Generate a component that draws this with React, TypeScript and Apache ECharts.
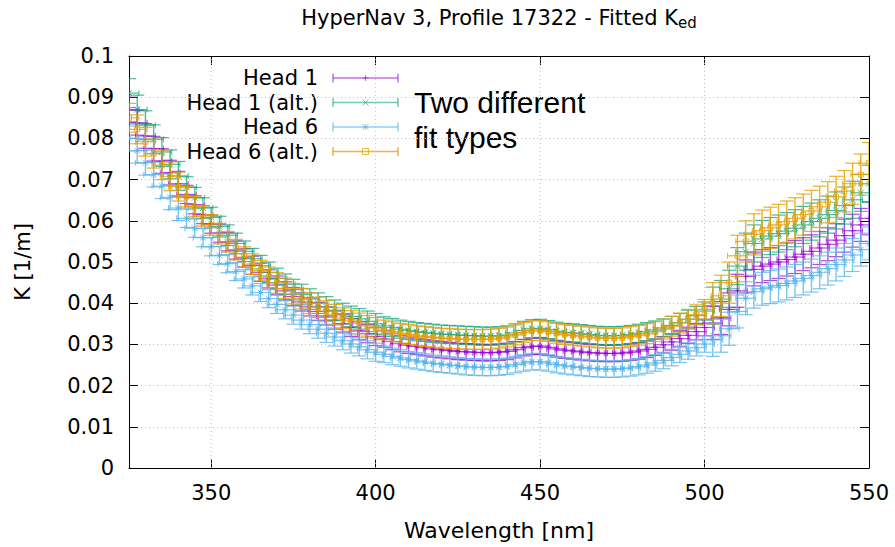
import { useEffect, useRef } from 'react';
import * as echarts from 'echarts';

// ---------------- data ----------------
const wavelengths: number[] = Array.from({ length: 91 }, (_, i) => 325 + 2.5 * i);

const head1 = [
  0.0870, 0.0838, 0.0806, 0.0775, 0.0745, 0.0717, 0.0690, 0.0664, 0.0639, 0.0615,
  0.0592, 0.0570, 0.0549, 0.0529, 0.0510, 0.0492, 0.0475, 0.0459, 0.0444, 0.0430,
  0.0416, 0.0403, 0.0391, 0.0380, 0.0369, 0.0359, 0.0350, 0.0341, 0.0333, 0.0326,
  0.0319, 0.0313, 0.0307, 0.0302, 0.0298, 0.0295, 0.0292, 0.0289, 0.0287, 0.0285,
  0.0283, 0.0282, 0.0281, 0.0280, 0.0280, 0.0281, 0.0283, 0.0287, 0.0292, 0.0295,
  0.0296, 0.0293, 0.0289, 0.0286, 0.0284, 0.0282, 0.0280, 0.0279, 0.0278, 0.0278,
  0.0279, 0.0281, 0.0284, 0.0288, 0.0293, 0.0299, 0.0306, 0.0314, 0.0322, 0.0331,
  0.0341, 0.0352, 0.0364, 0.0385, 0.0430, 0.0465, 0.0482, 0.0490, 0.0495, 0.0500,
  0.0506, 0.0512, 0.0519, 0.0526, 0.0534, 0.0543, 0.0553, 0.0564, 0.0576, 0.0590,
  0.0606,
];

const head1Alt = [
  0.0910, 0.0870, 0.0832, 0.0798, 0.0767, 0.0737, 0.0709, 0.0682, 0.0656, 0.0631,
  0.0608, 0.0586, 0.0565, 0.0545, 0.0526, 0.0508, 0.0491, 0.0475, 0.0460, 0.0446,
  0.0433, 0.0421, 0.0410, 0.0400, 0.0391, 0.0383, 0.0375, 0.0368, 0.0362, 0.0356,
  0.0350, 0.0345, 0.0341, 0.0337, 0.0334, 0.0331, 0.0329, 0.0327, 0.0325, 0.0324,
  0.0323, 0.0322, 0.0321, 0.0320, 0.0320, 0.0321, 0.0323, 0.0328, 0.0334, 0.0338,
  0.0339, 0.0336, 0.0332, 0.0329, 0.0328, 0.0326, 0.0324, 0.0322, 0.0321, 0.0321,
  0.0322, 0.0324, 0.0327, 0.0331, 0.0335, 0.0340, 0.0346, 0.0353, 0.0361, 0.0370,
  0.0381, 0.0394, 0.0410, 0.0435, 0.0490, 0.0525, 0.0545, 0.0556, 0.0563, 0.0569,
  0.0575, 0.0582, 0.0590, 0.0598, 0.0606, 0.0615, 0.0625, 0.0637, 0.0651, 0.0668,
  0.0690,
];

const head6 = [
  0.0800, 0.0770, 0.0741, 0.0712, 0.0684, 0.0657, 0.0631, 0.0606, 0.0582, 0.0559,
  0.0537, 0.0516, 0.0496, 0.0477, 0.0459, 0.0442, 0.0426, 0.0411, 0.0397, 0.0384,
  0.0371, 0.0359, 0.0348, 0.0337, 0.0327, 0.0318, 0.0309, 0.0301, 0.0294, 0.0287,
  0.0281, 0.0276, 0.0271, 0.0267, 0.0263, 0.0260, 0.0257, 0.0254, 0.0252, 0.0250,
  0.0248, 0.0246, 0.0245, 0.0244, 0.0244, 0.0245, 0.0247, 0.0251, 0.0255, 0.0258,
  0.0258, 0.0255, 0.0251, 0.0248, 0.0246, 0.0244, 0.0242, 0.0241, 0.0240, 0.0240,
  0.0241, 0.0243, 0.0246, 0.0250, 0.0255, 0.0261, 0.0268, 0.0276, 0.0284, 0.0292,
  0.0301, 0.0311, 0.0321, 0.0338, 0.0380, 0.0412, 0.0428, 0.0435, 0.0439, 0.0443,
  0.0448, 0.0454, 0.0460, 0.0467, 0.0475, 0.0484, 0.0494, 0.0505, 0.0517, 0.0530,
  0.0545,
];

const head6Alt = [
  0.0850, 0.0822, 0.0792, 0.0763, 0.0735, 0.0708, 0.0683, 0.0659, 0.0635, 0.0612,
  0.0590, 0.0569, 0.0549, 0.0530, 0.0512, 0.0495, 0.0479, 0.0463, 0.0449, 0.0436,
  0.0423, 0.0411, 0.0400, 0.0390, 0.0381, 0.0372, 0.0364, 0.0357, 0.0351, 0.0345,
  0.0340, 0.0335, 0.0331, 0.0327, 0.0324, 0.0321, 0.0319, 0.0317, 0.0315, 0.0314,
  0.0313, 0.0312, 0.0312, 0.0312, 0.0313, 0.0315, 0.0318, 0.0323, 0.0329, 0.0333,
  0.0334, 0.0331, 0.0327, 0.0324, 0.0322, 0.0320, 0.0318, 0.0316, 0.0315, 0.0315,
  0.0316, 0.0319, 0.0322, 0.0326, 0.0331, 0.0337, 0.0344, 0.0352, 0.0361, 0.0372,
  0.0385, 0.0400, 0.0418, 0.0450, 0.0515, 0.0550, 0.0567, 0.0576, 0.0583, 0.0590,
  0.0598, 0.0606, 0.0615, 0.0624, 0.0634, 0.0645, 0.0658, 0.0672, 0.0690, 0.0712,
  0.0740,
];

// vertical error (1/m) by wavelength band: band upper bounds and per-series values
const errBandUpper = [340, 400, 500, 550];
const errHead1 = [0.0030, 0.0022, 0.0020, 0.0040];
const errHead1Alt = [0.0035, 0.0025, 0.0022, 0.0045];
const errHead6 = [0.0030, 0.0022, 0.0020, 0.0040];
const errHead6Alt = [0.0035, 0.0025, 0.0024, 0.0050];
// horizontal error (nm)
const xErr = 3;

const xTicks = [350, 400, 450, 500, 550];
const xGridValues = [350, 400, 450, 500];

const seriesNames = ['Head 1', 'Head 1 (alt.)', 'Head 6', 'Head 6 (alt.)'];

// ---------------- styles ----------------
const FONT = '"DejaVu Sans", sans-serif';
const colors = [
  'rgba(148,0,211,0.7)',
  'rgba(0,158,115,0.7)',
  'rgba(86,180,233,0.78)',
  'rgba(230,159,0,0.82)',
];
const legendColors = [
  'rgba(148,0,211,0.55)',
  'rgba(0,158,115,0.55)',
  'rgba(86,180,233,0.65)',
  'rgba(230,159,0,0.75)',
];
const markers = ['plus', 'cross', 'star', 'square'];

function ln(x1: number, y1: number, x2: number, y2: number, color: string, w = 1) {
  return { type: 'line', shape: { x1, y1, x2, y2 }, style: { stroke: color, lineWidth: w } };
}

function markerShapes(kind: string, cx: number, cy: number, color: string, s = 3): any[] {
  if (kind === 'plus') return [ln(cx - s, cy, cx + s, cy, color), ln(cx, cy - s, cx, cy + s, color)];
  if (kind === 'cross')
    return [ln(cx - s, cy - s, cx + s, cy + s, color), ln(cx - s, cy + s, cx + s, cy - s, color)];
  if (kind === 'star')
    return [
      ln(cx - s, cy, cx + s, cy, color),
      ln(cx, cy - s, cx, cy + s, color),
      ln(cx - s, cy - s, cx + s, cy + s, color),
      ln(cx - s, cy + s, cx + s, cy - s, color),
    ];
  return [
    {
      type: 'rect',
      shape: { x: cx - s, y: cy - s, width: 2 * s, height: 2 * s },
      style: { stroke: color, fill: 'none', lineWidth: 1 },
    },
  ];
}

function errLookup(w: number, table: number[]) {
  let idx = errBandUpper.findIndex((b) => w <= b);
  if (idx < 0) idx = table.length - 1;
  return table[idx];
}

function buildData(values: number[], errTable: number[]) {
  return wavelengths.map((w, i) => [w, values[i], errLookup(w, errTable)]);
}

function makeErrSeries(idx: number, values: number[], errTable: number[]) {
  const color = colors[idx];
  const kind = markers[idx];
  return {
    type: 'custom',
    name: seriesNames[idx],
    xAxisIndex: 0,
    yAxisIndex: 0,
    clip: true,
    z: 3 + idx,
    data: buildData(values, errTable),
    renderItem: (params: any, api: any) => {
      const w = api.value(0);
      const v = api.value(1);
      const e = api.value(2);
      const l = api.coord([w - xErr, v]);
      const r = api.coord([w + xErr, v]);
      const b = api.coord([w, v - e]);
      const t = api.coord([w, v + e]);
      const c = api.coord([w, v]);
      const cap = 3;
      const hcap = 7;
      const children: any[] = [
        ln(l[0], l[1], r[0], r[1], color, 1.2),
        ln(l[0], l[1] - cap, l[0], l[1] + cap, color),
        ln(r[0], r[1] - cap, r[0], r[1] + cap, color),
        ln(b[0], b[1], t[0], t[1], color, 1.4),
        ln(b[0] - hcap, b[1], b[0] + hcap, b[1], color, 1.2),
        ln(t[0] - hcap, t[1], t[0] + hcap, t[1], color, 1.2),
        ...markerShapes(kind, c[0], c[1], color, kind === 'square' ? 2.5 : 3),
      ];
      return { type: 'group', children };
    },
  };
}

function legendGraphics() {
  const els: any[] = [];
  seriesNames.forEach((name, i) => {
    const y = 78 + i * 24.5;
    const color = legendColors[i];
    els.push({
      type: 'text',
      style: {
        text: name,
        x: 318,
        y,
        textAlign: 'right',
        textVerticalAlign: 'middle',
        verticalAlign: 'middle',
        font: `21px ${FONT}`,
        fill: '#000',
      },
    });
    els.push(ln(333, y, 398, y, color, 1.5));
    els.push(ln(333, y - 4.5, 333, y + 4.5, color, 1.5));
    els.push(ln(398, y - 4.5, 398, y + 4.5, color, 1.5));
    markerShapes(markers[i], 365.5, y, color, 3).forEach((m) => els.push(m));
  });
  return els;
}

export default function App() {
  const ref = useRef<HTMLDivElement>(null);
  useEffect(() => {
    const chart = echarts.init(ref.current!, null, { renderer: 'svg' });
    const axisLineStyle = { color: '#000', width: 1 };
    const option: any = {
      animation: false,
      backgroundColor: '#fff',
      grid: { left: 129, right: 26, top: 56, bottom: 79, containLabel: false },
      xAxis: [
        {
          type: 'value',
          min: 325,
          max: 550,
          position: 'bottom',
          name: 'Wavelength [nm]',
          nameLocation: 'middle',
          nameGap: 51,
          nameTextStyle: { fontFamily: FONT, fontSize: 22, color: '#000' },
          axisLine: { show: true, onZero: false, lineStyle: axisLineStyle },
          axisTick: { show: true, inside: true, length: 9, customValues: xTicks, lineStyle: axisLineStyle },
          axisLabel: { show: true, customValues: xTicks, margin: 14, fontFamily: FONT, fontSize: 21, color: '#000' },
          splitLine: { show: false },
        },
        {
          type: 'value',
          min: 325,
          max: 550,
          position: 'top',
          axisLine: { show: true, onZero: false, lineStyle: axisLineStyle },
          axisTick: { show: true, inside: true, length: 9, customValues: xTicks, lineStyle: axisLineStyle },
          axisLabel: { show: false },
          splitLine: { show: false },
        },
      ],
      yAxis: [
        {
          type: 'value',
          min: 0,
          max: 0.1,
          interval: 0.01,
          position: 'left',
          name: 'K [1/m]',
          nameLocation: 'middle',
          nameGap: 96,
          nameTextStyle: { fontFamily: FONT, fontSize: 21, color: '#000' },
          axisLine: { show: true, onZero: false, lineStyle: axisLineStyle },
          axisTick: { show: true, inside: true, length: 9, lineStyle: axisLineStyle },
          axisLabel: {
            margin: 15,
            fontFamily: FONT,
            fontSize: 21,
            color: '#000',
            formatter: (v: number) => (v === 0 ? '0' : String(Math.round(v * 100) / 100)),
          },
          splitLine: { show: true, lineStyle: { color: '#bdbdbd', width: 1, type: [1, 3] } },
        },
        {
          type: 'value',
          min: 0,
          max: 0.1,
          interval: 0.01,
          position: 'right',
          axisLine: { show: true, onZero: false, lineStyle: axisLineStyle },
          axisTick: { show: true, inside: true, length: 9, lineStyle: axisLineStyle },
          axisLabel: { show: false },
          splitLine: { show: false },
        },
      ],
      graphic: [
        {
          type: 'text',
          style: {
            text: '{a|HyperNav 3, Profile 17322 - Fitted K}{b|ed}',
            x: 499,
            y: 18,
            textAlign: 'center',
            textVerticalAlign: 'middle',
            verticalAlign: 'middle',
            fill: '#000',
            rich: {
              a: { fontFamily: FONT, fontSize: 21, lineHeight: 24, color: '#000' },
              b: { fontFamily: FONT, fontSize: 15, lineHeight: 15, padding: [9, 0, 0, 0], color: '#000' },
            },
          },
        },
        {
          type: 'text',
          style: {
            text: 'Two different',
            x: 414,
            y: 102,
            textVerticalAlign: 'middle',
            verticalAlign: 'middle',
            font: '30px "Liberation Sans", Arial, sans-serif',
            fill: '#000',
          },
        },
        {
          type: 'text',
          style: {
            text: 'fit types',
            x: 414,
            y: 137,
            textVerticalAlign: 'middle',
            verticalAlign: 'middle',
            font: '30px "Liberation Sans", Arial, sans-serif',
            fill: '#000',
          },
        },
        ...legendGraphics(),
      ],
      series: [
        {
          type: 'custom',
          name: 'xgrid',
          z: 1,
          silent: true,
          data: xGridValues.map((x) => [x]),
          renderItem: (params: any, api: any) => {
            const x = api.value(0);
            const p0 = api.coord([x, 0]);
            const p1 = api.coord([x, 0.1]);
            return {
              type: 'line',
              shape: { x1: p0[0], y1: p0[1], x2: p1[0], y2: p1[1] },
              style: { stroke: '#bdbdbd', lineWidth: 1, lineDash: [1, 3] },
            };
          },
        },
        makeErrSeries(0, head1, errHead1),
        makeErrSeries(1, head1Alt, errHead1Alt),
        makeErrSeries(2, head6, errHead6),
        makeErrSeries(3, head6Alt, errHead6Alt),
      ],
    };
    chart.setOption(option);
    return () => chart.dispose();
  }, []);
  return <div ref={ref} style={{ position: 'fixed', left: 0, top: 0, width: 895, height: 547 }} />;
}
